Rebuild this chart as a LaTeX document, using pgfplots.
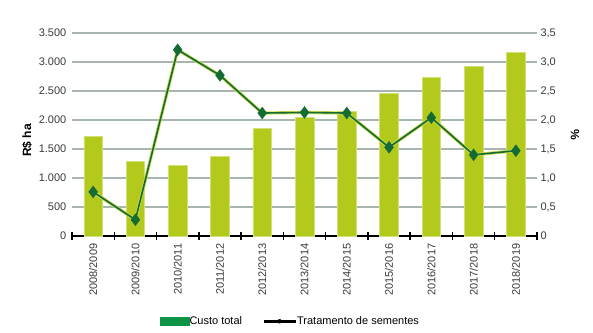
\documentclass[border=0pt]{standalone}
\usepackage{pgfplots}
\pgfplotsset{compat=1.18}
\usepackage{fontspec}
\setmainfont{Liberation Sans}
\definecolor{barc}{HTML}{B3C91B}
\definecolor{bare}{HTML}{D2E07A}
\definecolor{gridc}{HTML}{A9B6AE}
\definecolor{linec}{HTML}{146B34}
\definecolor{haloc}{HTML}{C9DB4A}
\definecolor{legg}{HTML}{0E9447}
\definecolor{txt}{HTML}{3A3A3A}
\begin{document}
\begin{tikzpicture}
\useasboundingbox (-72pt,-96pt) rectangle (521pt,236pt);
\begin{axis}[
  scale only axis, width=465pt, height=203pt,
  xmin=-0.5, xmax=10.5, ymin=0, ymax=3500,
  axis x line*=bottom, axis y line*=left,
  y axis line style={draw=none},
  x axis line style={black, line width=1.6pt},
  xtick={0,...,10},
  xticklabels={2008/2009,2009/2010,2010/2011,2011/2012,2012/2013,2013/2014,2014/2015,2015/2016,2016/2017,2017/2018,2018/2019},
  x tick label style={rotate=90, anchor=east, font=\fontsize{11}{13}\selectfont, text=txt, xshift=-2pt},
  major x tick style={draw=none},
  minor xtick={-0.5,0.5,...,10.5},
  minor x tick style={black, line width=1.4pt},
  minor tick length=8pt,
  tick align=center,
  ytick={0,500,...,3500},
  yticklabels={{0},{500},{1.000},{1.500},{2.000},{2.500},{3.000},{3.500}},
  y tick label style={font=\fontsize{11}{13}\selectfont, text=txt},
  major y tick style={draw=none},
  ymajorgrids, major grid style={gridc, line width=1.5pt},
  ylabel={\textbf{R\$ ha}}, ylabel style={font=\fontsize{12}{14}\selectfont, xshift=-6pt},
  clip=false,
]
\addplot[ybar, bar width=0.44, fill=barc, draw=bare, line width=0.6pt] coordinates {
(0,1715) (1,1282) (2,1218) (3,1369) (4,1854) (5,2050) (6,2154) (7,2460) (8,2738) (9,2928) (10,3165)};
\end{axis}
\begin{axis}[
  scale only axis, width=465pt, height=203pt,
  xmin=-0.5, xmax=10.5, ymin=0, ymax=3.5,
  axis x line=none, axis y line*=right,
  y axis line style={draw=none},
  ytick={0,0.5,...,3.5},
  yticklabels={{0},{0,5},{1,0},{1,5},{2,0},{2,5},{3,0},{3,5}},
  y tick label style={font=\fontsize{11}{13}\selectfont, text=txt},
  major y tick style={draw=none},
  ylabel={\textbf{\%}}, ylabel style={font=\fontsize{12}{14}\selectfont, rotate=180, yshift=8pt},
  legend style={at={(0.47,-0.42)}, anchor=center, draw=none, font=\fontsize{11}{13}\selectfont, legend columns=2, /tikz/every even column/.append style={column sep=18pt}, /tikz/every odd column/.append style={column sep=-2pt}},
  clip=false,
]
\addlegendimage{legend image code/.code={\fill[legg] (0pt,-4pt) rectangle (29pt,4pt);}}
\addlegendentry{Custo total}
\addlegendimage{legend image code/.code={\draw[black,line width=3pt] (0pt,0pt) -- (32pt,0pt);\fill[black] (16pt,0) circle (2pt);}}
\addlegendentry{Tratamento de sementes}
\addplot[haloc, line width=3.2pt, forget plot] coordinates {
(0,0.76) (1,0.28) (2,3.21) (3,2.77) (4,2.12) (5,2.13) (6,2.12) (7,1.53) (8,2.04) (9,1.40) (10,1.47)};
\addplot[linec, line width=1.6pt, mark=diamond*, mark size=5pt, mark options={fill=linec, draw=linec}, forget plot] coordinates {
(0,0.76) (1,0.28) (2,3.21) (3,2.77) (4,2.12) (5,2.13) (6,2.12) (7,1.53) (8,2.04) (9,1.40) (10,1.47)};
\end{axis}
\end{tikzpicture}
\end{document}
